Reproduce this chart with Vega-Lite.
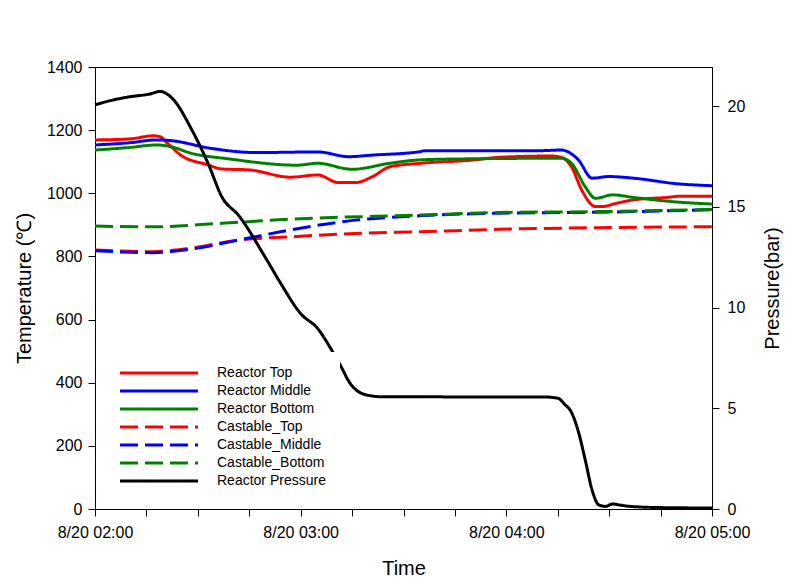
{
  "$schema": "https://vega.github.io/schema/vega-lite/v6.json",
  "width": 617,
  "height": 442,
  "autosize": "none",
  "padding": {"left": 95, "top": 67, "right": 78, "bottom": 79},
  "config": {
    "font": "Liberation Sans",
    "view": {"stroke": "black", "strokeWidth": 1},
    "axis": {
      "grid": false,
      "domainColor": "black",
      "tickColor": "black",
      "tickSize": 7,
      "labelColor": "black",
      "titleColor": "black",
      "labelFontSize": 16,
      "titleFontSize": 20,
      "titleFontWeight": "normal"
    }
  },
  "data": {
    "values": [
      {"t": "2020-08-20T02:00:00", "s": "Reactor Top", "v": 1169},
      {"t": "2020-08-20T02:10:00", "s": "Reactor Top", "v": 1172},
      {"t": "2020-08-20T02:17:00", "s": "Reactor Top", "v": 1182},
      {"t": "2020-08-20T02:19:00", "s": "Reactor Top", "v": 1179},
      {"t": "2020-08-20T02:21:00", "s": "Reactor Top", "v": 1160},
      {"t": "2020-08-20T02:25:00", "s": "Reactor Top", "v": 1121},
      {"t": "2020-08-20T02:33:00", "s": "Reactor Top", "v": 1090},
      {"t": "2020-08-20T02:37:00", "s": "Reactor Top", "v": 1077},
      {"t": "2020-08-20T02:45:00", "s": "Reactor Top", "v": 1074},
      {"t": "2020-08-20T02:57:00", "s": "Reactor Top", "v": 1051},
      {"t": "2020-08-20T03:05:00", "s": "Reactor Top", "v": 1058},
      {"t": "2020-08-20T03:11:00", "s": "Reactor Top", "v": 1034},
      {"t": "2020-08-20T03:16:00", "s": "Reactor Top", "v": 1034},
      {"t": "2020-08-20T03:21:00", "s": "Reactor Top", "v": 1053},
      {"t": "2020-08-20T03:26:00", "s": "Reactor Top", "v": 1084},
      {"t": "2020-08-20T03:35:00", "s": "Reactor Top", "v": 1095},
      {"t": "2020-08-20T03:50:00", "s": "Reactor Top", "v": 1105},
      {"t": "2020-08-20T03:58:00", "s": "Reactor Top", "v": 1114},
      {"t": "2020-08-20T04:13:00", "s": "Reactor Top", "v": 1118},
      {"t": "2020-08-20T04:16:00", "s": "Reactor Top", "v": 1114},
      {"t": "2020-08-20T04:19:00", "s": "Reactor Top", "v": 1084},
      {"t": "2020-08-20T04:22:00", "s": "Reactor Top", "v": 1010},
      {"t": "2020-08-20T04:26:00", "s": "Reactor Top", "v": 958},
      {"t": "2020-08-20T04:28:00", "s": "Reactor Top", "v": 958},
      {"t": "2020-08-20T04:32:00", "s": "Reactor Top", "v": 968},
      {"t": "2020-08-20T04:37:00", "s": "Reactor Top", "v": 979},
      {"t": "2020-08-20T04:47:00", "s": "Reactor Top", "v": 987},
      {"t": "2020-08-20T04:51:00", "s": "Reactor Top", "v": 991},
      {"t": "2020-08-20T05:00:00", "s": "Reactor Top", "v": 991},
      {"t": "2020-08-20T02:00:00", "s": "Reactor Middle", "v": 1153},
      {"t": "2020-08-20T02:10:00", "s": "Reactor Middle", "v": 1160},
      {"t": "2020-08-20T02:18:00", "s": "Reactor Middle", "v": 1169},
      {"t": "2020-08-20T02:22:00", "s": "Reactor Middle", "v": 1167},
      {"t": "2020-08-20T02:34:00", "s": "Reactor Middle", "v": 1142},
      {"t": "2020-08-20T02:47:00", "s": "Reactor Middle", "v": 1129},
      {"t": "2020-08-20T03:05:00", "s": "Reactor Middle", "v": 1131},
      {"t": "2020-08-20T03:14:00", "s": "Reactor Middle", "v": 1116},
      {"t": "2020-08-20T03:21:00", "s": "Reactor Middle", "v": 1121},
      {"t": "2020-08-20T03:35:00", "s": "Reactor Middle", "v": 1132},
      {"t": "2020-08-20T03:36:00", "s": "Reactor Middle", "v": 1135},
      {"t": "2020-08-20T04:10:00", "s": "Reactor Middle", "v": 1135},
      {"t": "2020-08-20T04:16:00", "s": "Reactor Middle", "v": 1137},
      {"t": "2020-08-20T04:21:00", "s": "Reactor Middle", "v": 1106},
      {"t": "2020-08-20T04:25:00", "s": "Reactor Middle", "v": 1048},
      {"t": "2020-08-20T04:30:00", "s": "Reactor Middle", "v": 1053},
      {"t": "2020-08-20T04:37:00", "s": "Reactor Middle", "v": 1048},
      {"t": "2020-08-20T04:50:00", "s": "Reactor Middle", "v": 1030},
      {"t": "2020-08-20T05:00:00", "s": "Reactor Middle", "v": 1024},
      {"t": "2020-08-20T02:00:00", "s": "Reactor Bottom", "v": 1137},
      {"t": "2020-08-20T02:10:00", "s": "Reactor Bottom", "v": 1145},
      {"t": "2020-08-20T02:18:00", "s": "Reactor Bottom", "v": 1153},
      {"t": "2020-08-20T02:22:00", "s": "Reactor Bottom", "v": 1148},
      {"t": "2020-08-20T02:28:00", "s": "Reactor Bottom", "v": 1127},
      {"t": "2020-08-20T02:39:00", "s": "Reactor Bottom", "v": 1109},
      {"t": "2020-08-20T02:59:00", "s": "Reactor Bottom", "v": 1089},
      {"t": "2020-08-20T03:05:00", "s": "Reactor Bottom", "v": 1095},
      {"t": "2020-08-20T03:15:00", "s": "Reactor Bottom", "v": 1076},
      {"t": "2020-08-20T03:26:00", "s": "Reactor Bottom", "v": 1095},
      {"t": "2020-08-20T03:35:00", "s": "Reactor Bottom", "v": 1106},
      {"t": "2020-08-20T03:48:00", "s": "Reactor Bottom", "v": 1109},
      {"t": "2020-08-20T04:16:00", "s": "Reactor Bottom", "v": 1111},
      {"t": "2020-08-20T04:19:00", "s": "Reactor Bottom", "v": 1095},
      {"t": "2020-08-20T04:23:00", "s": "Reactor Bottom", "v": 1021},
      {"t": "2020-08-20T04:26:00", "s": "Reactor Bottom", "v": 984},
      {"t": "2020-08-20T04:31:00", "s": "Reactor Bottom", "v": 995},
      {"t": "2020-08-20T04:37:00", "s": "Reactor Bottom", "v": 987},
      {"t": "2020-08-20T04:49:00", "s": "Reactor Bottom", "v": 973},
      {"t": "2020-08-20T05:00:00", "s": "Reactor Bottom", "v": 966},
      {"t": "2020-08-20T02:00:00", "s": "Castable_Top", "v": 820},
      {"t": "2020-08-20T02:17:00", "s": "Castable_Top", "v": 815},
      {"t": "2020-08-20T02:28:00", "s": "Castable_Top", "v": 826},
      {"t": "2020-08-20T02:42:00", "s": "Castable_Top", "v": 852},
      {"t": "2020-08-20T02:57:00", "s": "Castable_Top", "v": 862},
      {"t": "2020-08-20T03:16:00", "s": "Castable_Top", "v": 873},
      {"t": "2020-08-20T03:35:00", "s": "Castable_Top", "v": 878},
      {"t": "2020-08-20T03:58:00", "s": "Castable_Top", "v": 886},
      {"t": "2020-08-20T04:27:00", "s": "Castable_Top", "v": 891},
      {"t": "2020-08-20T05:00:00", "s": "Castable_Top", "v": 894},
      {"t": "2020-08-20T02:00:00", "s": "Castable_Middle", "v": 818},
      {"t": "2020-08-20T02:17:00", "s": "Castable_Middle", "v": 812},
      {"t": "2020-08-20T02:28:00", "s": "Castable_Middle", "v": 823},
      {"t": "2020-08-20T02:42:00", "s": "Castable_Middle", "v": 852},
      {"t": "2020-08-20T02:57:00", "s": "Castable_Middle", "v": 884},
      {"t": "2020-08-20T03:16:00", "s": "Castable_Middle", "v": 915},
      {"t": "2020-08-20T03:35:00", "s": "Castable_Middle", "v": 929},
      {"t": "2020-08-20T03:58:00", "s": "Castable_Middle", "v": 937},
      {"t": "2020-08-20T04:27:00", "s": "Castable_Middle", "v": 940},
      {"t": "2020-08-20T05:00:00", "s": "Castable_Middle", "v": 948},
      {"t": "2020-08-20T02:00:00", "s": "Castable_Bottom", "v": 896},
      {"t": "2020-08-20T02:17:00", "s": "Castable_Bottom", "v": 894},
      {"t": "2020-08-20T02:37:00", "s": "Castable_Bottom", "v": 905},
      {"t": "2020-08-20T02:57:00", "s": "Castable_Bottom", "v": 918},
      {"t": "2020-08-20T03:35:00", "s": "Castable_Bottom", "v": 931},
      {"t": "2020-08-20T03:58:00", "s": "Castable_Bottom", "v": 939},
      {"t": "2020-08-20T04:27:00", "s": "Castable_Bottom", "v": 942},
      {"t": "2020-08-20T05:00:00", "s": "Castable_Bottom", "v": 949},
      {"t": "2020-08-20T02:00:00", "s": "Reactor Pressure", "v": 20.06},
      {"t": "2020-08-20T02:04:00", "s": "Reactor Pressure", "v": 20.25},
      {"t": "2020-08-20T02:10:00", "s": "Reactor Pressure", "v": 20.46},
      {"t": "2020-08-20T02:16:00", "s": "Reactor Pressure", "v": 20.6},
      {"t": "2020-08-20T02:19:00", "s": "Reactor Pressure", "v": 20.73},
      {"t": "2020-08-20T02:21:00", "s": "Reactor Pressure", "v": 20.6},
      {"t": "2020-08-20T02:23:00", "s": "Reactor Pressure", "v": 20.3},
      {"t": "2020-08-20T02:28:00", "s": "Reactor Pressure", "v": 18.9},
      {"t": "2020-08-20T02:33:00", "s": "Reactor Pressure", "v": 17.15},
      {"t": "2020-08-20T02:37:00", "s": "Reactor Pressure", "v": 15.5},
      {"t": "2020-08-20T02:42:00", "s": "Reactor Pressure", "v": 14.55},
      {"t": "2020-08-20T02:50:00", "s": "Reactor Pressure", "v": 12.4},
      {"t": "2020-08-20T02:54:00", "s": "Reactor Pressure", "v": 11.25},
      {"t": "2020-08-20T03:00:00", "s": "Reactor Pressure", "v": 9.7},
      {"t": "2020-08-20T03:05:00", "s": "Reactor Pressure", "v": 8.95},
      {"t": "2020-08-20T03:09:00", "s": "Reactor Pressure", "v": 7.9},
      {"t": "2020-08-20T03:12:00", "s": "Reactor Pressure", "v": 7.0},
      {"t": "2020-08-20T03:14:00", "s": "Reactor Pressure", "v": 6.35},
      {"t": "2020-08-20T03:19:00", "s": "Reactor Pressure", "v": 5.67},
      {"t": "2020-08-20T03:24:00", "s": "Reactor Pressure", "v": 5.57},
      {"t": "2020-08-20T04:11:00", "s": "Reactor Pressure", "v": 5.56},
      {"t": "2020-08-20T04:15:00", "s": "Reactor Pressure", "v": 5.5},
      {"t": "2020-08-20T04:17:00", "s": "Reactor Pressure", "v": 5.2},
      {"t": "2020-08-20T04:19:00", "s": "Reactor Pressure", "v": 4.8},
      {"t": "2020-08-20T04:21:00", "s": "Reactor Pressure", "v": 3.85},
      {"t": "2020-08-20T04:23:00", "s": "Reactor Pressure", "v": 2.45},
      {"t": "2020-08-20T04:25:00", "s": "Reactor Pressure", "v": 0.95},
      {"t": "2020-08-20T04:27:00", "s": "Reactor Pressure", "v": 0.2},
      {"t": "2020-08-20T04:29:00", "s": "Reactor Pressure", "v": 0.13},
      {"t": "2020-08-20T04:31:00", "s": "Reactor Pressure", "v": 0.25},
      {"t": "2020-08-20T04:33:00", "s": "Reactor Pressure", "v": 0.2},
      {"t": "2020-08-20T04:35:00", "s": "Reactor Pressure", "v": 0.15},
      {"t": "2020-08-20T04:39:00", "s": "Reactor Pressure", "v": 0.1},
      {"t": "2020-08-20T04:45:00", "s": "Reactor Pressure", "v": 0.07},
      {"t": "2020-08-20T05:00:00", "s": "Reactor Pressure", "v": 0.05}
    ]
  },
  "encoding": {
    "x": {
      "field": "t",
      "type": "temporal",
      "scale": {
        "domain": [
          {"year": 2020, "month": 8, "date": 20, "hours": 2, "minutes": 0},
          {"year": 2020, "month": 8, "date": 20, "hours": 5, "minutes": 0}
        ]
      },
      "axis": {
        "title": "Time",
        "format": "%-m/%d %H:%M",
        "labelExpr": "minutes(datum.value) == 0 ? datum.label : ''",
        "labelPadding": 8,
        "titlePadding": 18,
        "labelFlush": false,
        "labelOverlap": false
      }
    },
    "color": {
      "field": "s",
      "type": "nominal",
      "scale": {
        "domain": ["Reactor Top", "Reactor Middle", "Reactor Bottom", "Castable_Top", "Castable_Middle", "Castable_Bottom", "Reactor Pressure"],
        "range": ["#ff0000", "#0000ff", "#008000", "#ff0000", "#0000ff", "#008000", "#000000"]
      },
      "legend": {
        "title": null,
        "orient": "none",
        "legendX": 4,
        "legendY": 285,
        "symbolType": "M0,0H39",
        "symbolSize": 16,
        "symbolStrokeWidth": 3,
        "labelFontSize": 14,
        "labelColor": "black",
        "labelOffset": 90,
        "rowPadding": 4,
        "fillColor": "white",
        "padding": 14
      }
    },
    "strokeDash": {
      "field": "s",
      "type": "nominal",
      "scale": {
        "domain": ["Reactor Top", "Reactor Middle", "Reactor Bottom", "Castable_Top", "Castable_Middle", "Castable_Bottom", "Reactor Pressure"],
        "range": [[1, 0], [1, 0], [1, 0], [18, 7], [18, 7], [18, 7], [1, 0]]
      }
    }
  },
  "layer": [
    {
      "transform": [{"filter": "datum.s != 'Reactor Pressure'"}],
      "mark": {"type": "line", "strokeWidth": 3, "interpolate": "monotone"},
      "encoding": {
        "y": {
          "field": "v",
          "type": "quantitative",
          "scale": {"domain": [0, 1400], "nice": false},
          "axis": {
            "title": "Temperature (℃)",
            "format": "d",
            "values": [0, 200, 400, 600, 800, 1000, 1200, 1400],
            "labelPadding": 6,
            "titlePadding": 12
          }
        }
      }
    },
    {
      "transform": [{"filter": "datum.s == 'Reactor Pressure'"}],
      "mark": {"type": "line", "strokeWidth": 3, "interpolate": "monotone"},
      "encoding": {
        "y": {
          "field": "v",
          "type": "quantitative",
          "scale": {"domain": [0, 21.94], "nice": false},
          "axis": {
            "orient": "right",
            "title": "Pressure(bar)",
            "titleAngle": 270,
            "titleBaseline": "bottom",
            "values": [0, 5, 10, 15, 20],
            "labelPadding": 8,
            "titlePadding": 38
          }
        }
      }
    }
  ],
  "resolve": {"scale": {"y": "independent"}}
}
